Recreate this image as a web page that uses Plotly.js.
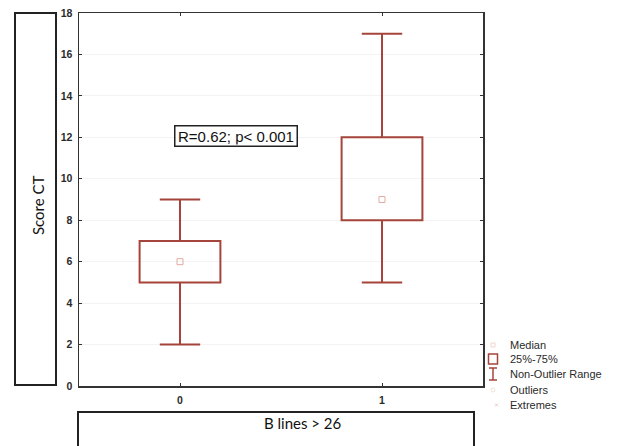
<!DOCTYPE html>
<html>
<head>
<meta charset="utf-8">
<script src="https://cdn.plot.ly/plotly-3.0.1.min.js"></script>
<style>html,body{margin:0;padding:0;background:#fff}#chart{width:617px;height:446px}</style>
</head>
<body>
<div id="chart"></div>
<script>
// ---- data ----
const categories = ['0', '1'];
const xPos = [0, 1];
const q1 = [5, 8];
const median = [6, 9];
const q3 = [7, 12];
const lowerWhisker = [2, 5];
const upperWhisker = [9, 17];
const yTicks = [0, 2, 4, 6, 8, 10, 12, 14, 16, 18];
const legendLabels = ['Median', '25%-75%', 'Non-Outlier Range', 'Outliers', 'Extremes'];
const statText = 'R=0.62; p< 0.001';

// ---- layout geometry ----
const W = 617, H = 446;
const L = 79, R = 483, T = 13, B = 386;
const PW = R - L, PH = B - T;
const px = v => (v - L) / PW;   // pixel -> paper x
const py = v => (B - v) / PH;   // pixel -> paper y
const boxColor = '#a5443b';
const halfBox = 0.2, halfCap = 0.1;

const shapes = [];
for (let i = 0; i < xPos.length; i++) {
  const x = xPos[i];
  const ln = {color: boxColor, width: 2};
  shapes.push({type: 'rect', xref: 'x', yref: 'y', x0: x - halfBox, x1: x + halfBox, y0: q1[i], y1: q3[i], line: ln});
  shapes.push({type: 'line', xref: 'x', yref: 'y', x0: x, x1: x, y0: q3[i], y1: upperWhisker[i], line: ln});
  shapes.push({type: 'line', xref: 'x', yref: 'y', x0: x, x1: x, y0: q1[i], y1: lowerWhisker[i], line: ln});
  shapes.push({type: 'line', xref: 'x', yref: 'y', x0: x - halfCap, x1: x + halfCap, y0: upperWhisker[i], y1: upperWhisker[i], line: ln});
  shapes.push({type: 'line', xref: 'x', yref: 'y', x0: x - halfCap, x1: x + halfCap, y0: lowerWhisker[i], y1: lowerWhisker[i], line: ln});
}
// title boxes
shapes.push({type: 'rect', xref: 'paper', yref: 'paper', x0: px(15), x1: px(56), y0: py(385), y1: py(13), line: {color: '#222', width: 2}});
shapes.push({type: 'rect', xref: 'paper', yref: 'paper', x0: px(78), x1: px(474), y0: py(460), y1: py(412), line: {color: '#222', width: 2}});
// legend symbols
const lx = 493;
const rows = [345, 359, 374, 390, 405];
shapes.push({type: 'rect', xref: 'paper', yref: 'paper', x0: px(lx - 2), x1: px(lx + 2), y0: py(rows[0] + 2), y1: py(rows[0] - 2), line: {color: '#f0d6cc', width: 1}});
shapes.push({type: 'rect', xref: 'paper', yref: 'paper', x0: px(lx - 4.5), x1: px(lx + 4.5), y0: py(rows[1] + 5), y1: py(rows[1] - 5), line: {color: boxColor, width: 1.5}});
shapes.push({type: 'line', xref: 'paper', yref: 'paper', x0: px(lx), x1: px(lx), y0: py(rows[2] + 6), y1: py(rows[2] - 6), line: {color: boxColor, width: 1.5}});
shapes.push({type: 'line', xref: 'paper', yref: 'paper', x0: px(lx - 4), x1: px(lx + 4), y0: py(rows[2] - 6), y1: py(rows[2] - 6), line: {color: boxColor, width: 1.5}});
shapes.push({type: 'line', xref: 'paper', yref: 'paper', x0: px(lx - 4), x1: px(lx + 4), y0: py(rows[2] + 6), y1: py(rows[2] + 6), line: {color: boxColor, width: 1.5}});
shapes.push({type: 'circle', xref: 'paper', yref: 'paper', x0: px(lx - 2), x1: px(lx + 2), y0: py(rows[3] + 2), y1: py(rows[3] - 2), line: {color: '#f3e0d8', width: 1}});
shapes.push({type: 'line', xref: 'paper', yref: 'paper', x0: px(lx + 2), x1: px(lx + 5), y0: py(rows[4] + 1.5), y1: py(rows[4] - 1.5), line: {color: '#f0c8c0', width: 1}});
shapes.push({type: 'line', xref: 'paper', yref: 'paper', x0: px(lx + 2), x1: px(lx + 5), y0: py(rows[4] - 1.5), y1: py(rows[4] + 1.5), line: {color: '#f0c8c0', width: 1}});

const annotations = [];
annotations.push({xref: 'paper', yref: 'paper', x: px(38), y: py(205), text: 'Score CT', showarrow: false, textangle: -90,
  font: {family: 'Lato, Carlito, sans-serif', size: 15, color: '#111'}, xanchor: 'center', yanchor: 'middle'});
annotations.push({xref: 'paper', yref: 'paper', x: px(303), y: py(423), text: 'B lines > 26', showarrow: false,
  font: {family: 'Lato, Carlito, sans-serif', size: 15, color: '#111'}, xanchor: 'center', yanchor: 'middle'});
annotations.push({xref: 'paper', yref: 'paper', x: px(235.5), y: py(135.5), text: statText, showarrow: false,
  font: {family: 'Liberation Sans, Arial, sans-serif', size: 15, color: '#111'}, bordercolor: '#222', borderwidth: 1.5,
  borderpad: 1, bgcolor: '#fff', xanchor: 'center', yanchor: 'middle', width: 119});
legendLabels.forEach((t, i) => {
  annotations.push({xref: 'paper', yref: 'paper', x: px(508), y: py(rows[i]), text: t, showarrow: false,
    font: {family: 'Liberation Sans, Arial, sans-serif', size: 11, color: '#2a2a2a'}, xanchor: 'left', yanchor: 'middle'});
});

const traces = [{
  type: 'scatter', mode: 'markers', x: xPos, y: median, showlegend: false, hoverinfo: 'skip',
  marker: {symbol: 'square-open', size: 6, color: '#e3aaa2', line: {width: 1}}
}];

const tickFont = {family: 'Liberation Sans, Arial, sans-serif', size: 10.5, color: '#2a2a2a', weight: 'bold'};
const layout = {
  width: W, height: H,
  margin: {l: L, r: W - R, t: T, b: H - B, pad: 0},
  paper_bgcolor: '#fff', plot_bgcolor: '#fff',
  showlegend: false,
  xaxis: {range: [-0.5, 1.5], tickvals: xPos, ticktext: categories, showgrid: false, zeroline: false,
    showline: true, linecolor: '#333', linewidth: 1.5, mirror: 'ticks', ticks: 'inside', ticklen: 3, tickcolor: '#333',
    ticklabelstandoff: 4, tickfont: tickFont, fixedrange: true},
  yaxis: {range: [0, 18], tickvals: yTicks, showgrid: true, gridcolor: '#f3f3f3', zeroline: false,
    showline: true, linecolor: '#333', linewidth: 1.5, mirror: 'ticks', ticks: 'inside', ticklen: 3, tickcolor: '#333',
    ticklabelstandoff: 3, tickfont: tickFont, fixedrange: true},
  shapes: shapes,
  annotations: annotations
};

Plotly.newPlot('chart', traces, layout, {staticPlot: true, displayModeBar: false});
</script>
</body>
</html>
